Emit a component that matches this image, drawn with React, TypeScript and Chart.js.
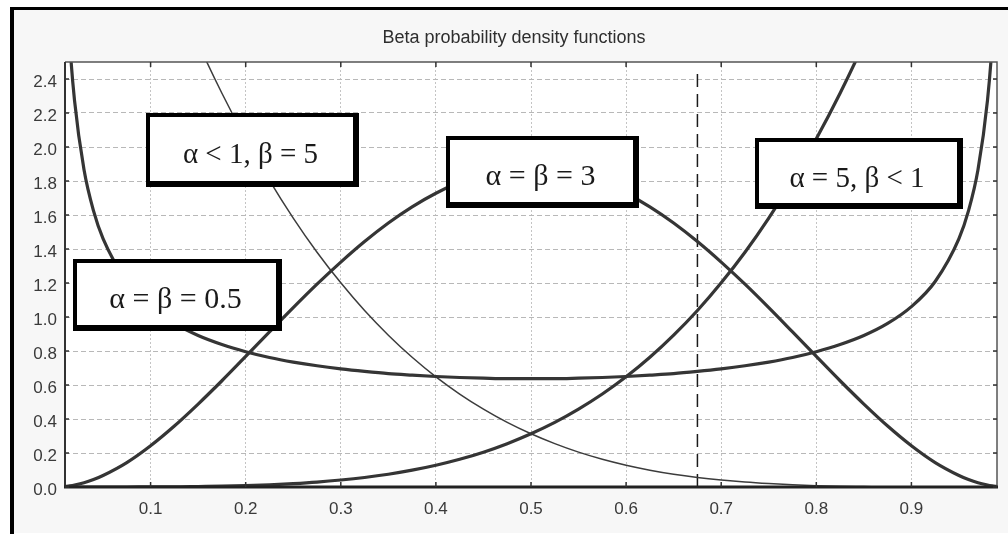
import React, { useEffect, useRef } from "react";
import { Chart, registerables } from "chart.js";

Chart.register(...registerables);

// Sample positions along the unit interval (denser near both ends).
const xs = [
  0.01, 0.015, 0.02, 0.03, 0.04, 0.05, 0.075, 0.1, 0.125, 0.15, 0.175, 0.2,
  0.225, 0.25, 0.275, 0.3, 0.325, 0.35, 0.375, 0.4, 0.425, 0.45, 0.475, 0.5,
  0.525, 0.55, 0.575, 0.6, 0.625, 0.65, 0.675, 0.7, 0.725, 0.75, 0.775, 0.8,
  0.825, 0.85, 0.875, 0.9, 0.925, 0.95, 0.96, 0.97, 0.98, 0.985, 0.99,
];

// α = β = 0.5
const uShaped = [
  3.199, 2.619, 2.274, 1.866, 1.624, 1.461, 1.209, 1.061, 0.962, 0.891, 0.838, 0.796,
  0.762, 0.735, 0.713, 0.695, 0.68, 0.667, 0.658, 0.65, 0.644, 0.64, 0.637, 0.637,
  0.637, 0.64, 0.644, 0.65, 0.658, 0.667, 0.68, 0.695, 0.713, 0.735, 0.762, 0.796,
  0.838, 0.891, 0.962, 1.061, 1.209, 1.461, 1.624, 1.866, 2.274, 2.619, 3.199,
];

// α = β = 3
const bellShaped = [
  0.003, 0.007, 0.012, 0.025, 0.044, 0.068, 0.144, 0.243, 0.359, 0.488, 0.625, 0.768,
  0.912, 1.055, 1.193, 1.323, 1.444, 1.553, 1.648, 1.728, 1.792, 1.838, 1.866, 1.875,
  1.866, 1.838, 1.792, 1.728, 1.648, 1.553, 1.444, 1.323, 1.193, 1.055, 0.912, 0.768,
  0.625, 0.488, 0.359, 0.243, 0.144, 0.068, 0.044, 0.025, 0.012, 0.007, 0.003,
];

// α = 5, β < 1 (rising toward x = 1)
const rising = [
  0, 0, 0, 0, 0, 0, 0, 0.001, 0.001, 0.003, 0.005, 0.008,
  0.013, 0.02, 0.029, 0.041, 0.056, 0.075, 0.099, 0.128, 0.163, 0.205, 0.255, 0.313,
  0.38, 0.458, 0.547, 0.648, 0.763, 0.893, 1.038, 1.201, 1.381, 1.582, 1.804, 2.048,
  2.316, 2.61, 2.931, 3.281, 3.66, 4.073, 4.247, 4.426, 4.612, 4.707, 4.803,
];

// α < 1, β = 5 (falling from x = 0)
const falling = [
  4.803, 4.707, 4.612, 4.426, 4.247, 4.073, 3.66, 3.281, 2.931, 2.61, 2.316, 2.048,
  1.804, 1.582, 1.381, 1.201, 1.038, 0.893, 0.763, 0.648, 0.547, 0.458, 0.38, 0.313,
  0.255, 0.205, 0.163, 0.128, 0.099, 0.075, 0.056, 0.041, 0.029, 0.02, 0.013, 0.008,
  0.005, 0.003, 0.001, 0.001, 0, 0, 0, 0, 0, 0, 0,
];

// Vertical dashed marker
const markerX = [0.675, 0.675];
const markerY = [0, 2.44];

const xTicks = [0.1, 0.2, 0.3, 0.4, 0.5, 0.6, 0.7, 0.8, 0.9];
const yTicks = [0, 0.2, 0.4, 0.6, 0.8, 1.0, 1.2, 1.4, 1.6, 1.8, 2.0, 2.2, 2.4];

const chartTitle = "Beta probability density functions";

const boxLabels = ["α < 1, β = 5", "α = β = 3", "α = 5, β < 1", "α = β = 0.5"];

// Label boxes, placed in data coordinates
const boxPlacement = [
  { x0: 0.0947, x1: 0.319, y0: 2.2, y1: 1.766, font: 29 },
  { x0: 0.4105, x1: 0.6137, y0: 2.066, y1: 1.643, font: 30 },
  { x0: 0.7358, x1: 0.9547, y0: 2.054, y1: 1.637, font: 29 },
  { x0: 0.0189, x1: 0.2379, y0: 1.344, y1: 0.9155, font: 30 },
];

const pairs = (vals: number[]) => xs.map((x, i) => ({ x, y: vals[i] }));

const decorations = {
  id: "decorations",
  beforeDraw(chart: any) {
    const { ctx, width, height, chartArea: a } = chart;
    ctx.save();
    ctx.fillStyle = "#ffffff";
    ctx.fillRect(0, 0, width, height);
    ctx.fillStyle = "#f7f7f7";
    ctx.fillRect(10, 7, width - 10, height - 8);
    ctx.fillStyle = "#000000";
    ctx.fillRect(10, 7, width - 10, 3);
    ctx.fillRect(10, 7, 4, height - 7);
    ctx.fillStyle = "#ffffff";
    ctx.fillRect(a.left, a.top, a.right - a.left, a.bottom - a.top);

    ctx.fillStyle = "#2e2e2e";
    ctx.font = "18px 'Liberation Sans', Arial, sans-serif";
    ctx.textAlign = "center";
    ctx.textBaseline = "alphabetic";
    ctx.fillText(chartTitle, 514, 43);
    ctx.restore();
  },
  afterDatasetsDraw(chart: any) {
    const { ctx, chartArea: a, scales } = chart;
    ctx.save();
    // plot frame
    ctx.strokeStyle = "#555555";
    ctx.lineWidth = 1.5;
    ctx.beginPath();
    ctx.moveTo(a.left, a.top);
    ctx.lineTo(a.right, a.top);
    ctx.lineTo(a.right, a.bottom);
    ctx.stroke();
    ctx.strokeStyle = "#333333";
    ctx.lineWidth = 2;
    ctx.beginPath();
    ctx.moveTo(a.left, a.top);
    ctx.lineTo(a.left, a.bottom);
    ctx.stroke();
    ctx.strokeStyle = "#222222";
    ctx.lineWidth = 3;
    ctx.beginPath();
    ctx.moveTo(a.left - 1, a.bottom);
    ctx.lineTo(a.right + 1, a.bottom);
    ctx.stroke();

    // inward tick marks
    ctx.strokeStyle = "#333333";
    ctx.lineWidth = 1.5;
    ctx.beginPath();
    xTicks.forEach((v) => {
      const px = scales.x.getPixelForValue(v);
      ctx.moveTo(px, a.bottom);
      ctx.lineTo(px, a.bottom - 5);
      ctx.moveTo(px, a.top);
      ctx.lineTo(px, a.top + 5);
    });
    yTicks.forEach((v) => {
      const py = scales.y.getPixelForValue(v);
      ctx.moveTo(a.left, py);
      ctx.lineTo(a.left + 4, py);
      ctx.moveTo(a.right, py);
      ctx.lineTo(a.right - 4, py);
    });
    ctx.stroke();
    ctx.restore();
  },
  afterDraw(chart: any) {
    const { ctx, scales } = chart;
    ctx.save();
    boxPlacement.forEach((b, i) => {
      const l = Math.round(scales.x.getPixelForValue(b.x0));
      const r = Math.round(scales.x.getPixelForValue(b.x1));
      const t = Math.round(scales.y.getPixelForValue(b.y0));
      const bt = Math.round(scales.y.getPixelForValue(b.y1));
      ctx.fillStyle = "#000000";
      ctx.fillRect(l, t, r - l, bt - t);
      ctx.fillStyle = "#ffffff";
      ctx.fillRect(l + 4, t + 4, r - l - 10, bt - t - 10);
      ctx.fillStyle = "#1a1a1a";
      ctx.font = `${b.font}px 'Liberation Serif', 'Times New Roman', serif`;
      ctx.textAlign = "center";
      ctx.textBaseline = "alphabetic";
      ctx.fillText(boxLabels[i], (l + r) / 2 - 2, (t + bt) / 2 + 13);
    });
    ctx.restore();
  },
};

export default function App() {
  const canvasRef = useRef<HTMLCanvasElement | null>(null);

  useEffect(() => {
    if (!canvasRef.current) return;
    const lineStyle = {
      pointRadius: 0,
      pointHoverRadius: 0,
      fill: false,
      cubicInterpolationMode: "monotone" as const,
      clip: 0,
    };
    const tickFont = { family: "'Liberation Sans', Arial, sans-serif", size: 17 };

    const chart = new Chart(canvasRef.current, {
      type: "line",
      data: {
        datasets: [
          { ...lineStyle, label: "α = β = 0.5", data: pairs(uShaped), borderColor: "#353535", borderWidth: 3.2 },
          { ...lineStyle, label: "α = β = 3", data: pairs(bellShaped), borderColor: "#353535", borderWidth: 3.2 },
          { ...lineStyle, label: "α = 5, β < 1", data: pairs(rising), borderColor: "#353535", borderWidth: 3.2 },
          { ...lineStyle, label: "α < 1, β = 5", data: pairs(falling), borderColor: "#3c3c3c", borderWidth: 1.5 },
          {
            ...lineStyle,
            label: "marker",
            data: markerX.map((x, i) => ({ x, y: markerY[i] })),
            borderColor: "#1a1a1a",
            borderWidth: 1.5,
            borderDash: [13, 7],
            cubicInterpolationMode: "default" as const,
          },
        ],
      },
      options: {
        responsive: false,
        animation: false,
        events: [],
        layout: { padding: { top: 62, right: 11, left: 0, bottom: 0 } },
        plugins: {
          legend: { display: false },
          title: { display: false },
          tooltip: { enabled: false },
        },
        scales: {
          x: {
            type: "linear",
            min: 0.01,
            max: 0.99,
            afterBuildTicks: (s: any) => {
              s.ticks = xTicks.map((v) => ({ value: v }));
            },
            afterFit: (s: any) => {
              s.height = 47;
            },
            grid: { color: "#c4c4c4", lineWidth: 1, drawTicks: false },
            border: { display: false, dash: [2, 2] },
            ticks: {
              padding: 12,
              color: "#3a3a3a",
              font: tickFont,
              autoSkip: false,
              maxRotation: 0,
              callback: (v: any) => Number(v).toFixed(1),
            },
          },
          y: {
            type: "linear",
            min: 0,
            max: 2.5,
            afterBuildTicks: (s: any) => {
              s.ticks = yTicks.map((v) => ({ value: v }));
            },
            afterFit: (s: any) => {
              s.width = 65;
            },
            grid: { color: "#b8b8b8", lineWidth: 1, drawTicks: false },
            border: { display: false, dash: [5, 3] },
            ticks: {
              padding: 8,
              labelOffset: 3,
              color: "#3a3a3a",
              font: tickFont,
              callback: (v: any) => Number(v).toFixed(1),
            },
          },
        },
      },
      plugins: [decorations],
    });
    return () => chart.destroy();
  }, []);

  return (
    <div style={{ position: "absolute", left: 0, top: 0, width: 1008, height: 534 }}>
      <canvas ref={canvasRef} width={1008} height={534} style={{ display: "block" }} />
    </div>
  );
}
